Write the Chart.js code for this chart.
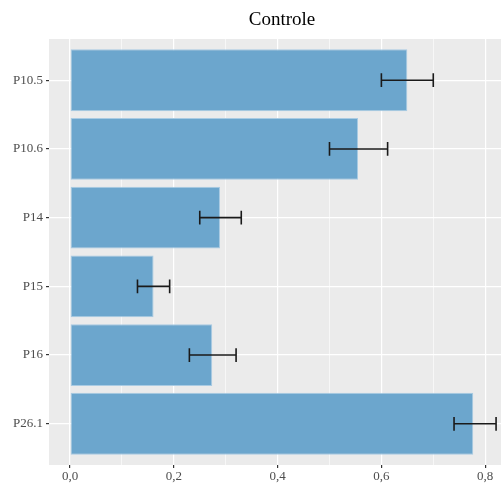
<!DOCTYPE html>
<html>
<head>
<meta charset="utf-8">
<script src="https://cdn.jsdelivr.net/npm/chart.js@4/dist/chart.umd.min.js"></script>
<style>
  html, body { margin: 0; padding: 0; background: #fff; }
  #wrap { width: 501px; height: 485px; }
</style>
</head>
<body>
<div id="wrap"><canvas id="grafico"></canvas></div>
<script>
// dados
const titulo = 'Controle';
const amostras = ['P10.5', 'P10.6', 'P14', 'P15', 'P16', 'P26.1'];
const medias = [0.650, 0.555, 0.289, 0.161, 0.274, 0.777];
const erroMin = [0.600, 0.500, 0.250, 0.130, 0.230, 0.740];
const erroMax = [0.700, 0.612, 0.330, 0.192, 0.320, 0.821];
const ticksX = [0, 0.1, 0.2, 0.3, 0.4, 0.5, 0.6, 0.7, 0.8];

const fonteSerif = 'Liberation Serif';

const fundoPainel = {
    id: 'fundoPainel',
    beforeDraw(chart) {
        const { ctx, chartArea: a } = chart;
        ctx.save();
        ctx.fillStyle = '#EBEBEB';
        ctx.fillRect(a.left, a.top, a.right - a.left, a.bottom - a.top);
        // titulo centrado no painel (ggplot)
        ctx.fillStyle = '#000';
        ctx.font = '19px "' + fonteSerif + '"';
        ctx.textAlign = 'center';
        ctx.textBaseline = 'middle';
        ctx.fillText(titulo, (a.left + a.right) / 2 + 7, 20);
        ctx.restore();
    }
};

const barrasErro = {
    id: 'barrasErro',
    afterDatasetsDraw(chart) {
        const { ctx, scales: { x, y } } = chart;
        ctx.save();
        ctx.strokeStyle = '#1a1a1a';
        ctx.lineWidth = 1.6;
        amostras.forEach((_, i) => {
            const yc = y.getPixelForValue(i + 1);
            const h = Math.abs(y.getPixelForValue(i + 1.1) - yc);
            const x0 = x.getPixelForValue(erroMin[i]);
            const x1 = x.getPixelForValue(erroMax[i]);
            ctx.beginPath();
            ctx.moveTo(x0, yc); ctx.lineTo(x1, yc);
            ctx.moveTo(x0, yc - h); ctx.lineTo(x0, yc + h);
            ctx.moveTo(x1, yc - h); ctx.lineTo(x1, yc + h);
            ctx.stroke();
        });
        ctx.restore();
    }
};

const ehMaior = v => Math.round(v * 10) % 2 === 0;

new Chart(document.getElementById('grafico'), {
    type: 'bar',
    data: {
        datasets: [{
            label: titulo,
            data: amostras.map((a, i) => ({ x: medias[i], y: i + 1 })),
            backgroundColor: '#6CA6CD',
            borderColor: '#A9CBE3',
            borderWidth: 1,
            borderSkipped: false,
            barPercentage: 0.9,
            categoryPercentage: 1
        }]
    },
    options: {
        indexAxis: 'y',
        responsive: true,
        maintainAspectRatio: false,
        animation: false,
        layout: { padding: { left: 0, right: 0, top: 39, bottom: 0 } },
        plugins: {
            legend: { display: false },
            tooltip: { enabled: false },
            title: { display: false }
        },
        scales: {
            x: {
                type: 'linear',
                min: -0.0405,
                max: 0.8305,
                afterBuildTicks: ax => { ax.ticks = ticksX.map(v => ({ value: v })); },
                afterFit: ax => { ax.height = 20; },
                border: { display: false },
                grid: {
                    color: '#FFFFFF',
                    lineWidth: c => ehMaior(c.tick.value) ? 1.2 : 0.6,
                    tickColor: c => ehMaior(c.tick.value) ? '#333333' : 'rgba(0,0,0,0)',
                    tickLength: 3,
                    tickWidth: 1.2
                },
                ticks: {
                    autoSkip: false,
                    maxRotation: 0,
                    padding: 1,
                    color: '#4D4D4D',
                    font: { family: fonteSerif, size: 13 },
                    callback: v => ehMaior(v) ? v.toFixed(1).replace('.', ',') : ''
                }
            },
            y: {
                type: 'linear',
                reverse: true,
                offset: false,
                min: 0.4,
                max: 6.6,
                afterBuildTicks: ax => { ax.ticks = amostras.map((_, i) => ({ value: i + 1 })); },
                afterFit: ax => { ax.width = 49; },
                border: { display: false },
                grid: {
                    offset: false,
                    color: '#FFFFFF',
                    lineWidth: 1.2,
                    tickColor: '#333333',
                    tickLength: 3,
                    tickWidth: 1.2
                },
                ticks: {
                    autoSkip: false,
                    padding: 3,
                    color: '#4D4D4D',
                    font: { family: fonteSerif, size: 13 },
                    callback: v => amostras[Math.round(v) - 1]
                }
            }
        }
    },
    plugins: [fundoPainel, barrasErro]
});
</script>
</body>
</html>
